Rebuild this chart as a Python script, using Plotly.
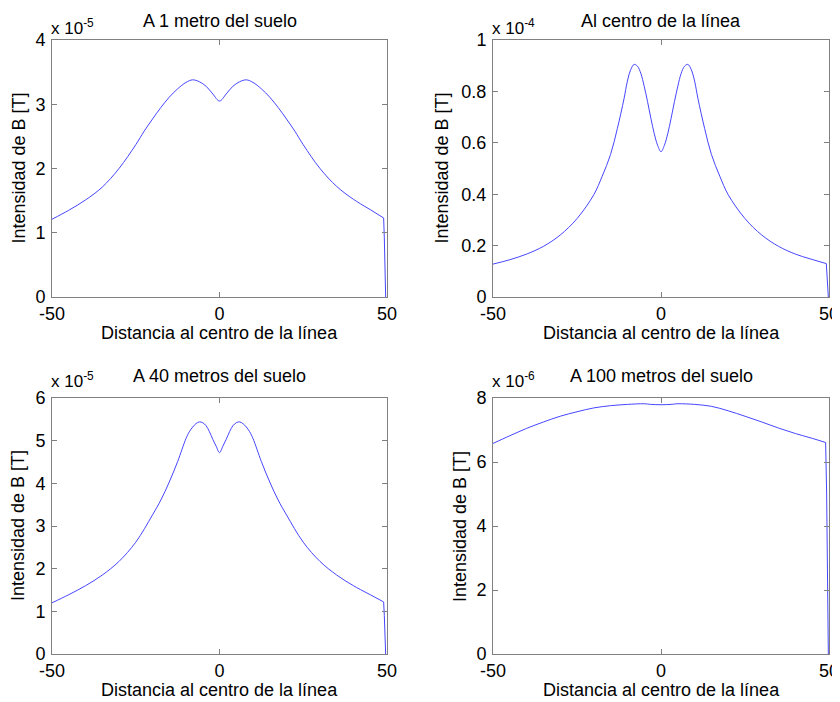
import plotly.graph_objects as go

# The page body has an 8 px margin, so the figure is made 8 px smaller and all
# target pixel positions are shifted by that offset.
OFF = 8
W, H = 840 - OFF, 702 - OFF

# ---------------- data ----------------
# Panel 1: A 1 metro del suelo  (values x 1e-5 T)
x1 = [-50, -45, -40, -35, -30, -25, -22.5, -20, -17.5, -15, -12.5, -10, -8, -6, -4, -2, 0,
      2, 4, 6, 8, 10, 12.5, 15, 17.5, 20, 22.5, 25, 30, 35, 40, 45, 49, 49.2, 49.6]
y1 = [1.21, 1.35, 1.51, 1.71, 2.00, 2.37, 2.58, 2.77, 2.95, 3.11, 3.24, 3.34, 3.38, 3.35, 3.28, 3.16, 3.05,
      3.16, 3.28, 3.35, 3.38, 3.34, 3.24, 3.11, 2.95, 2.77, 2.58, 2.37, 2.00, 1.72, 1.52, 1.36, 1.23, 0.92, 0.0]

# Panel 2: Al centro de la línea  (values x 1e-4 T)
x2 = [-50, -45, -40, -35, -30, -25, -20, -17.5, -15, -13, -11, -10, -9, -8, -7, -6, -5, -4, -3, -2, -1, 0,
      1, 2, 3, 4, 5, 6, 7, 8, 9, 10, 11, 13, 15, 17.5, 20, 25, 30, 35, 40, 45, 49.2, 49.8]
y2 = [0.128, 0.145, 0.167, 0.197, 0.241, 0.305, 0.398, 0.47, 0.555, 0.655, 0.772, 0.84, 0.885, 0.905, 0.898,
      0.87, 0.82, 0.76, 0.695, 0.635, 0.59, 0.565,
      0.59, 0.635, 0.695, 0.76, 0.82, 0.87, 0.898, 0.905, 0.885, 0.84, 0.772, 0.655, 0.555, 0.47, 0.398,
      0.305, 0.241, 0.197, 0.167, 0.146, 0.13, 0.0]

# Panel 3: A 40 metros del suelo  (values x 1e-5 T)
x3 = [-50, -45, -40, -35, -30, -25, -20, -17.5, -15, -12.5, -10, -9, -8, -7, -6, -5, -4, -3, -2, -1, 0,
      1, 2, 3, 4, 5, 6, 7, 8, 9, 10, 12.5, 15, 17.5, 20, 25, 30, 35, 40, 45, 49, 49.2, 49.6]
y3 = [1.20, 1.39, 1.60, 1.85, 2.17, 2.62, 3.26, 3.61, 4.03, 4.51, 5.05, 5.21, 5.32, 5.40, 5.44, 5.42, 5.35,
      5.21, 5.03, 4.87, 4.72,
      4.87, 5.03, 5.21, 5.35, 5.42, 5.44, 5.40, 5.32, 5.21, 5.05, 4.51, 4.03, 3.61, 3.26, 2.62, 2.17, 1.85,
      1.60, 1.39, 1.22, 0.9, 0.0]

# Panel 4: A 100 metros del suelo  (values x 1e-6 T)
x4 = [-50, -45, -40, -35, -30, -25, -20, -15, -10, -5, -3, 0, 3, 5, 10, 15, 20, 25, 30, 35, 40, 45,
      49, 49.3, 49.6, 49.8]
y4 = [6.58, 6.82, 7.05, 7.25, 7.43, 7.57, 7.69, 7.76, 7.80, 7.82, 7.80, 7.79, 7.80, 7.82, 7.80, 7.74, 7.60,
      7.43, 7.25, 7.06, 6.89, 6.74, 6.61, 5.0, 1.6, 0.0]

# number of final points that form the steep drop at the right edge
drop_n = [3, 2, 3, 4]

titles = ["A 1 metro del suelo", "Al centro de la línea", "A 40 metros del suelo", "A 100 metros del suelo"]
scales = [1e-5, 1e-4, 1e-5, 1e-6]
exps = ["-5", "-4", "-5", "-6"]
ytick_vals = [[0, 1, 2, 3, 4], [0, 0.2, 0.4, 0.6, 0.8, 1], [0, 1, 2, 3, 4, 5, 6], [0, 2, 4, 6, 8]]
ytick_text = [["0", "1", "2", "3", "4"], ["0", "0.2", "0.4", "0.6", "0.8", "1"],
              ["0", "1", "2", "3", "4", "5", "6"], ["0", "2", "4", "6", "8"]]
ymax = [4, 1, 6, 8]
xtick_vals = [-50, 0, 50]
xtick_text = ["-50", "0", "50"]
xlabel = "Distancia al centro de la línea"
ylabel = "Intensidad de B [T]"

series = [(x1, y1), (x2, y2), (x3, y3), (x4, y4)]

# ---------------- layout geometry (target screen pixels) ----------------
boxes = [(52, 387, 40, 297), (493, 829, 40, 297), (52, 387, 398, 654), (493, 829, 398, 654)]
ylabel_gap = [34, 52, 34, 33]
title_gap = [19, 19, 22, 22]
exp_gap = [13, 13, 18, 18]

def px(x):
    return (x - OFF) / W

def py(y):
    return 1 - (y - OFF) / H

FONT = "Liberation Sans, Arial, sans-serif"
AX = "#808080"
LINE = "rgb(70,70,255)"
fig = go.Figure()
layout = dict(width=W, height=H, margin=dict(l=0, r=0, t=0, b=0, autoexpand=False),
              paper_bgcolor="white", plot_bgcolor="white", showlegend=False,
              font=dict(family=FONT, size=18, color="black"))
annotations = []
for i, ((xs, ys), (l, r, t, b)) in enumerate(zip(series, boxes)):
    k = "" if i == 0 else str(i + 1)
    s = scales[i]
    yy = [v * s for v in ys]
    n = len(xs) - drop_n[i]
    # smooth main curve
    fig.add_trace(go.Scatter(x=xs[:n], y=yy[:n], mode="lines",
                             line=dict(color=LINE, width=1, shape="spline", smoothing=1.0),
                             xaxis="x" + k, yaxis="y" + k, hoverinfo="x+y"))
    # steep drop at the right edge
    fig.add_trace(go.Scatter(x=xs[n - 1:], y=yy[n - 1:], mode="lines",
                             line=dict(color=LINE, width=1),
                             xaxis="x" + k, yaxis="y" + k, hoverinfo="x+y"))
    common = dict(showline=True, mirror="ticks", linecolor=AX, linewidth=1,
                  ticks="inside", ticklen=5, tickcolor=AX, showgrid=False, zeroline=False,
                  automargin=False,
                  tickfont=dict(family=FONT, size=18, color="black"))
    layout["xaxis" + k] = dict(domain=[px(l), px(r)], range=[-50, 50], anchor="y" + k,
                               tickvals=xtick_vals, ticktext=xtick_text, **common)
    layout["yaxis" + k] = dict(domain=[py(b), py(t)], range=[0, ymax[i] * s], anchor="x" + k,
                               tickvals=[v * s for v in ytick_vals[i]], ticktext=ytick_text[i],
                               ticklabelstandoff=2, **common)
    cx = (l + r) / 2
    annotations.append(dict(text=titles[i], x=px(cx), y=py(t - title_gap[i]), xref="paper", yref="paper",
                            showarrow=False, xanchor="center", yanchor="middle",
                            font=dict(family=FONT, size=18, color="black")))
    annotations.append(dict(text="x 10<sup>" + exps[i] + "</sup>", x=px(l - 3), y=py(t - exp_gap[i]),
                            xref="paper", yref="paper", showarrow=False,
                            xanchor="left", yanchor="middle",
                            font=dict(family=FONT, size=17, color="black")))
    annotations.append(dict(text=xlabel, x=px(cx), y=py(b + 36), xref="paper", yref="paper",
                            showarrow=False, xanchor="center", yanchor="middle",
                            font=dict(family=FONT, size=18, color="black")))
    annotations.append(dict(text=ylabel, x=px(l - ylabel_gap[i]), y=py((t + b) / 2),
                            xref="paper", yref="paper",
                            showarrow=False, xanchor="center", yanchor="middle", textangle=-90,
                            font=dict(family=FONT, size=18, color="black")))
layout["annotations"] = annotations
fig.update_layout(**layout)
fig.write_html("out.html")
